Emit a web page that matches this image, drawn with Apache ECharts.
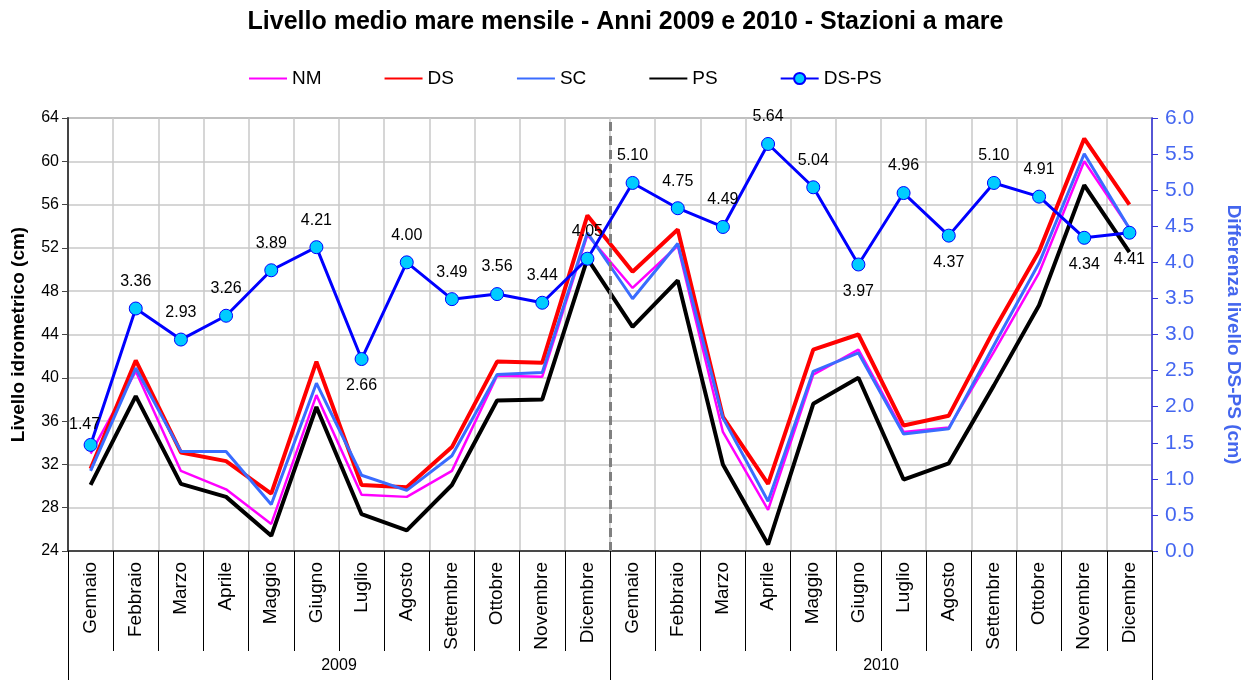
<!DOCTYPE html>
<html>
<head>
<meta charset="utf-8">
<script src="https://cdn.jsdelivr.net/npm/echarts@6/dist/echarts.min.js"></script>
<style>
  html, body { margin: 0; padding: 0; background: #ffffff; }
  #chart { width: 1251px; height: 680px; }
</style>
</head>
<body>
<div id="chart"></div>
<script>
const months = ['Gennaio','Febbraio','Marzo','Aprile','Maggio','Giugno','Luglio','Agosto','Settembre','Ottobre','Novembre','Dicembre'];
const years = ['2009', '2010'];
const categories = months.concat(months);

const NM   = [33.0, 40.6, 31.4, 29.7, 26.5, 38.4, 29.2, 29.0, 31.4, 40.2, 40.1, 53.2, 48.3, 52.2, 35.0, 27.8, 40.3, 42.6, 35.0, 35.4, 42.4, 49.7, 60.0, 53.8];
const DS   = [31.6, 41.6, 33.1, 32.3, 29.3, 41.5, 30.1, 29.9, 33.6, 41.5, 41.4, 55.0, 49.8, 53.7, 36.4, 30.2, 42.6, 44.0, 35.6, 36.5, 44.4, 51.7, 62.1, 56.0];
const SC   = [31.4, 40.9, 33.2, 33.2, 28.3, 39.5, 31.0, 29.6, 32.8, 40.3, 40.5, 53.4, 47.3, 52.4, 36.3, 28.6, 40.6, 42.3, 34.8, 35.3, 43.0, 50.6, 60.7, 53.8];
const PS   = [30.1, 38.3, 30.2, 29.0, 25.4, 37.3, 27.4, 25.9, 30.1, 37.9, 38.0, 51.0, 44.7, 49.0, 32.0, 24.6, 37.6, 40.0, 30.6, 32.1, 39.3, 46.7, 57.8, 51.6];
const DSPS = [1.47, 3.36, 2.93, 3.26, 3.89, 4.21, 2.66, 4.00, 3.49, 3.56, 3.44, 4.05, 5.10, 4.75, 4.49, 5.64, 5.04, 3.97, 4.96, 4.37, 5.10, 4.91, 4.34, 4.41];
// label placement for each DS-PS value (above / below the point)
const labelBelow = [6, 17, 19, 22, 23];

const leftTicks = { min: 24, max: 64, interval: 4 };
const rightTicks = { min: 0, max: 6, interval: 0.5 };
const yearBoundary = months.length;

const FONT = "'Liberation Sans', Arial, sans-serif";

const dspsData = DSPS.map(function (v, i) {
  const item = { value: v };
  if (labelBelow.indexOf(i) >= 0) {
    item.label = { position: 'bottom', distance: 12 };
  }
  if (i === 0) {
    item.label = { position: 'top', distance: 5, offset: [-6, 0] };
  }
  return item;
});

const chart = echarts.init(document.getElementById('chart'), null, { renderer: 'canvas' });

const lineOnly = { opacity: 0 };

const option = {
  backgroundColor: '#ffffff',
  animation: false,
  textStyle: { fontFamily: FONT },
  title: {
    text: 'Livello medio mare mensile - Anni 2009 e 2010 - Stazioni a mare',
    left: 'center',
    top: 5,
    textStyle: { fontFamily: FONT, fontSize: 25, fontWeight: 'bold', color: '#000' }
  },
  legend: {
    left: 243,
    top: 64,
    itemWidth: 38,
    itemHeight: 14,
    itemGap: 62,
    textStyle: { fontFamily: FONT, fontSize: 19, color: '#000' },
    data: [
      { name: 'NM', itemStyle: lineOnly },
      { name: 'DS', itemStyle: lineOnly },
      { name: 'SC', itemStyle: lineOnly },
      { name: 'PS', itemStyle: lineOnly },
      { name: 'DS-PS' }
    ]
  },
  grid: {
    left: 68, right: 98, top: 118, bottom: 129,
    show: true, borderColor: '#8c8c8c', borderWidth: 1.5, backgroundColor: 'transparent'
  },
  xAxis: [
    {
      type: 'category',
      data: categories,
      boundaryGap: true,
      axisLine: { lineStyle: { color: '#222', width: 1.5 } },
      axisTick: { show: true, interval: 0, length: 100, lineStyle: { color: '#000', width: 1 } },
      axisLabel: { interval: 0, rotate: 90, fontFamily: FONT, fontSize: 19, color: '#000', margin: 11 },
      splitLine: { show: true, interval: 0, lineStyle: { color: '#c8c8c8', width: 1.5 } }
    },
    {
      type: 'category',
      data: years,
      position: 'bottom',
      offset: 100,
      boundaryGap: true,
      axisLine: { show: false },
      axisTick: { show: true, interval: 0, length: 30, lineStyle: { color: '#000', width: 1 } },
      axisLabel: { interval: 0, fontFamily: FONT, fontSize: 16, color: '#000', margin: 7 },
      splitLine: { show: false }
    },
    {
      type: 'value',
      min: 0,
      max: categories.length,
      show: false
    }
  ],
  yAxis: [
    {
      type: 'value',
      min: leftTicks.min, max: leftTicks.max, interval: leftTicks.interval,
      name: 'Livello idrometrico (cm)',
      nameLocation: 'middle',
      nameGap: 40,
      nameTextStyle: { fontFamily: FONT, fontSize: 19, fontWeight: 'bold', color: '#000' },
      axisLine: { show: true, lineStyle: { color: '#444', width: 2 } },
      axisTick: { show: true, length: 6, lineStyle: { color: '#444' } },
      axisLabel: { fontFamily: FONT, fontSize: 16, color: '#000', margin: 9 },
      splitLine: { show: true, lineStyle: { color: '#c8c8c8', width: 1.5 } }
    },
    {
      type: 'value',
      position: 'right',
      min: rightTicks.min, max: rightTicks.max, interval: rightTicks.interval,
      name: 'Differenza livello DS-PS (cm)',
      nameLocation: 'middle',
      nameGap: 72,
      nameRotate: -90,
      nameTextStyle: { fontFamily: FONT, fontSize: 19, fontWeight: 'bold', color: '#4466ee' },
      axisLine: { show: true, lineStyle: { color: '#3333dd', width: 1.5 } },
      axisTick: { show: true, length: 6, lineStyle: { color: '#3333dd' } },
      axisLabel: { fontFamily: FONT, fontSize: 21, color: '#4466f0', margin: 13, formatter: function (v) { return v.toFixed(1); } },
      splitLine: { show: false }
    }
  ],
  series: [
    {
      name: 'NM', type: 'line', data: NM, symbol: 'none',
      lineStyle: { color: '#ff00ff', width: 2.5 }, itemStyle: { color: '#ff00ff' }
    },
    {
      name: 'DS', type: 'line', data: DS, symbol: 'none',
      lineStyle: { color: '#ff0000', width: 4 }, itemStyle: { color: '#ff0000' }
    },
    {
      name: 'SC', type: 'line', data: SC, symbol: 'none',
      lineStyle: { color: '#3a6cff', width: 3 }, itemStyle: { color: '#3a6cff' }
    },
    {
      name: 'PS', type: 'line', data: PS, symbol: 'none',
      lineStyle: { color: '#000000', width: 4 }, itemStyle: { color: '#000000' }
    },
    {
      name: 'year-boundary', type: 'line', xAxisIndex: 2, yAxisIndex: 0, data: [],
      silent: true,
      markLine: {
        silent: true, symbol: 'none', label: { show: false },
        lineStyle: { color: '#808080', type: [9, 5], width: 3 },
        data: [{ xAxis: yearBoundary }]
      }
    },
    {
      name: 'DS-PS', type: 'line', yAxisIndex: 1, data: dspsData,
      symbol: 'circle', symbolSize: 13,
      lineStyle: { color: '#0000ff', width: 3 },
      itemStyle: { color: '#00ccff', borderColor: '#0000ff', borderWidth: 1 },
      label: {
        show: true, position: 'top', distance: 12,
        fontFamily: FONT, fontSize: 16, color: '#000',
        formatter: function (p) { return p.value.toFixed(2); }
      },
      z: 5
    }
  ]
};

chart.setOption(option);
</script>
</body>
</html>
